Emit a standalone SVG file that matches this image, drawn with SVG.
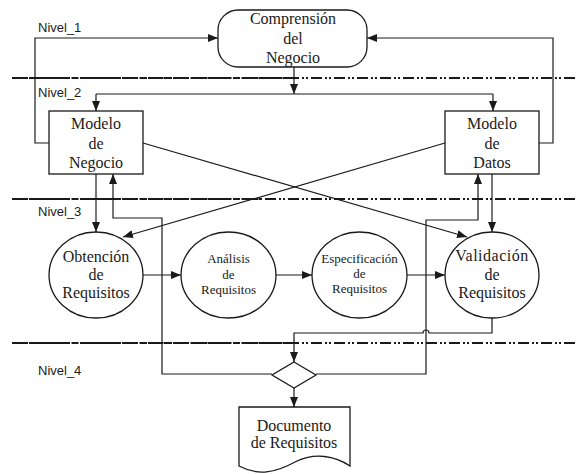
<svg xmlns="http://www.w3.org/2000/svg" width="576" height="474" viewBox="0 0 576 474">
<style>
.ln{fill:none;stroke:#1a1a1a;stroke-width:1.2}
.sh{fill:#fff;stroke:#1a1a1a;stroke-width:1.3}
.dd{fill:none;stroke:#1a1a1a;stroke-width:2;stroke-dasharray:11 3 2 2 2 3}
.dn{fill:none;stroke:#1a1a1a;stroke-width:2;stroke-dasharray:7 1.5}
.t16{font-family:"Liberation Serif","Times New Roman",serif;font-size:16px;fill:#1a1a1a;text-anchor:middle}
.t13{font-family:"Liberation Serif","Times New Roman",serif;font-size:13px;fill:#1a1a1a;text-anchor:middle}
.lv{font-family:"Liberation Sans",Arial,sans-serif;font-size:13px;fill:#1a1a1a}
</style>
<defs>
<marker id="a" markerUnits="userSpaceOnUse" markerWidth="10" markerHeight="8" refX="10" refY="4" orient="auto">
<path d="M0,0 L10,4 L0,8 z" fill="#1a1a1a"/>
</marker>
</defs>

<g id="levels">
<line class="dd" x1="12" y1="78" x2="576" y2="78"/>
<line class="dn" x1="12" y1="78" x2="292" y2="78"/>
<line class="dd" x1="12" y1="199" x2="576" y2="199"/>
<line class="dn" x1="12" y1="199" x2="260" y2="199"/>
<line class="dd" x1="12" y1="343" x2="576" y2="343"/>
<line class="dn" x1="12" y1="343" x2="293" y2="343"/>
<text class="lv" x="38" y="32">Nivel_1</text>
<text class="lv" x="38" y="97">Nivel_2</text>
<text class="lv" x="38" y="216">Nivel_3</text>
<text class="lv" x="38" y="375">Nivel_4</text>
</g>

<g id="connectors">
<path class="ln" d="M49,143 H35 V38 H218" marker-end="url(#a)"/>
<path class="ln" d="M539,143 H553 V38 H367" marker-end="url(#a)"/>
<path class="ln" d="M294,67 V94" marker-end="url(#a)"/>
<path class="ln" d="M96,94 H493"/>
<path class="ln" d="M96,94 V111" marker-end="url(#a)"/>
<path class="ln" d="M493,94 V111" marker-end="url(#a)"/>
<path class="ln" d="M96,174 V232" marker-end="url(#a)"/>
<path class="ln" d="M492,174 V232" marker-end="url(#a)"/>
<path class="ln" d="M143,143 L467,237" marker-end="url(#a)"/>
<path class="ln" d="M445,143 L123,237" marker-end="url(#a)"/>
<path class="ln" d="M143,275 H181" marker-end="url(#a)"/>
<path class="ln" d="M276,275 H312" marker-end="url(#a)"/>
<path class="ln" d="M407,275 H445" marker-end="url(#a)"/>
<path class="ln" d="M272,374 H162 V218 H113 V174" marker-end="url(#a)"/>
<path class="ln" d="M316,374 H426 V220 H478 V174" marker-end="url(#a)"/>
<path class="ln" d="M492,318 V333 H429 A3,3 0 0 0 423,333 H294 V362" marker-end="url(#a)"/>
<path class="ln" d="M294,388 V407" marker-end="url(#a)"/>
</g>

<g id="comprension">
<rect class="sh" x="218" y="10" width="149" height="57" rx="20" ry="20"/>
<text class="t16" x="293" y="24">Comprensión</text>
<text class="t16" x="293" y="44">del</text>
<text class="t16" x="293" y="63">Negocio</text>
</g>

<g id="modelo-negocio">
<rect class="sh" x="49" y="111" width="94" height="63"/>
<text class="t16" x="96" y="129">Modelo</text>
<text class="t16" x="96" y="149">de</text>
<text class="t16" x="96" y="168">Negocio</text>
</g>

<g id="modelo-datos">
<rect class="sh" x="445" y="111" width="94" height="63"/>
<text class="t16" x="492" y="129">Modelo</text>
<text class="t16" x="492" y="149">de</text>
<text class="t16" x="492" y="168">Datos</text>
</g>

<g id="obtencion">
<ellipse class="sh" cx="96" cy="275" rx="47" ry="43"/>
<text class="t16" x="96" y="262">Obtención</text>
<text class="t16" x="96" y="280">de</text>
<text class="t16" x="96" y="298">Requisitos</text>
</g>

<g id="analisis">
<ellipse class="sh" cx="228.5" cy="275" rx="47.5" ry="43"/>
<text class="t13" x="228.5" y="263">Análisis</text>
<text class="t13" x="228.5" y="279">de</text>
<text class="t13" x="228.5" y="294">Requisitos</text>
</g>

<g id="especificacion">
<ellipse class="sh" cx="359.5" cy="275" rx="47.5" ry="43"/>
<text class="t13" x="359.5" y="263">Especificación</text>
<text class="t13" x="359.5" y="278">de</text>
<text class="t13" x="359.5" y="293">Requisitos</text>
</g>

<g id="validacion">
<ellipse class="sh" cx="492" cy="275" rx="47" ry="43"/>
<text class="t16" x="492" y="261" letter-spacing="0.5">Validación</text>
<text class="t16" x="492" y="280">de</text>
<text class="t16" x="492" y="298">Requisitos</text>
</g>

<g id="decision">
<path class="sh" d="M294,362 L316,375 L294,388 L272,375 Z"/>
</g>

<g id="documento">
<path class="sh" d="M239,407 H350 V466 C335,456 315,452 295,462 C275,473 258,476 239,466 Z"/>
<text class="t16" x="294" y="431">Documento</text>
<text class="t16" x="294" y="448">de Requisitos</text>
</g>
</svg>
